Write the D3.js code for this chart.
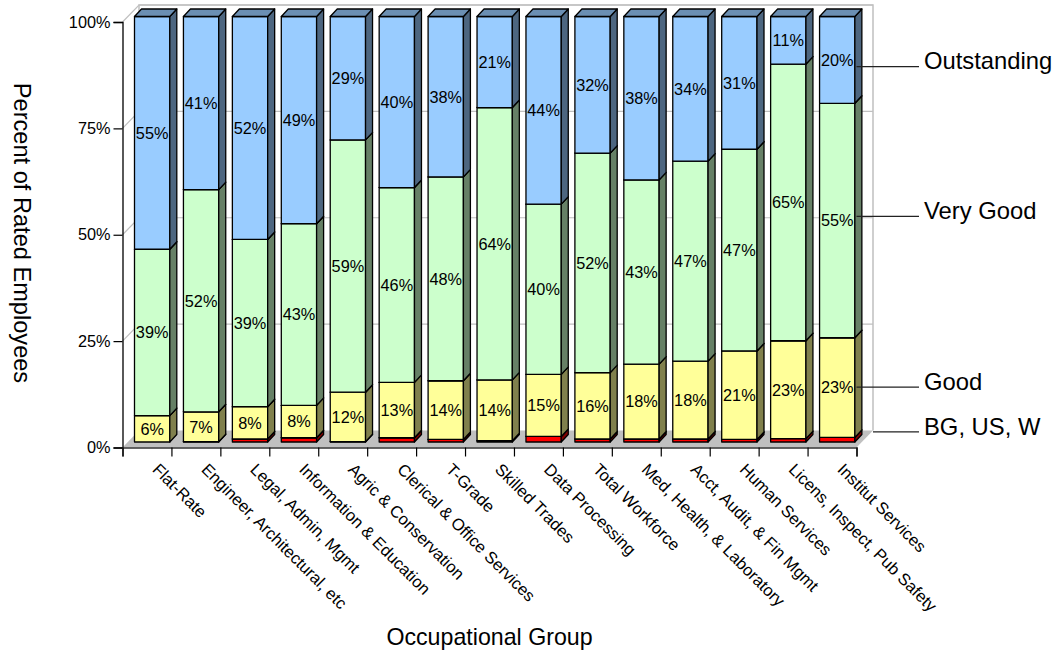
<!DOCTYPE html>
<html>
<head>
<meta charset="utf-8">
<style>
  html, body { margin: 0; padding: 0; background: #fff; }
  svg { display: block; }
  text { font-family: "Liberation Sans", Arial, sans-serif; fill: #000; }
</style>
<script src="https://cdn.jsdelivr.net/npm/d3@7/dist/d3.min.js"></script>
</head>
<body>
<svg id="chart" width="1057" height="652"></svg>
<script>
const categories = [
  "Flat-Rate", "Engineer, Architectural, etc", "Legal, Admin, Mgmt",
  "Information & Education", "Agric & Conservation", "Clerical & Office Services",
  "T-Grade", "Skilled Trades", "Data Processing", "Total Workforce",
  "Med, Health, & Laboratory", "Acct, Audit, & Fin Mgmt", "Human Services",
  "Licens, Inspect, Pub Safety", "Institut Services"
];
const lowRatings  = [0, 0.1, 0.7, 1, 0.1, 1, 0.6, 0.3, 1.3, 0.7, 0.7, 0.7, 0.6, 0.8, 1.1];
const good        = [6.2, 7, 7.6, 7.6, 11.6, 13, 13.8, 14.3, 14.6, 15.6, 17.6, 18.3, 20.8, 23, 23.4];
const veryGood    = [39.1, 52.2, 39.3, 42.7, 59.3, 45.8, 47.9, 64, 40, 51.6, 43.3, 47, 47.4, 65, 55.1];
const outstanding = [54.7, 40.7, 52.4, 48.7, 29, 40.2, 37.7, 21.4, 44.1, 32.1, 38.4, 34, 31.2, 11.2, 20.4];
const seriesKeys  = ["BG, US, W", "Good", "Very Good", "Outstanding"];
const percentTicks = [0, 25, 50, 75, 100];

const seriesValues = [lowRatings, good, veryGood, outstanding];
const rows = categories.map((name, i) => {
  const row = { name };
  seriesKeys.forEach((k, s) => { row[k] = seriesValues[s][i]; });
  return row;
});

// Face colours per series: front, side, top.
const faces = {
  "BG, US, W":   { front: "#ff0000", side: "#800000", top: "#b30000" },
  "Good":        { front: "#ffff99", side: "#80804d", top: "#b3b36b" },
  "Very Good":   { front: "#ccffcc", side: "#668066", top: "#8fb38f" },
  "Outstanding": { front: "#99ccff", side: "#4d6680", top: "#6b8fb3" }
};

const svg = d3.select("#chart");
const plotLeft = 122.5, plotRight = 856.5, plotBottom = 447.5, plotTop = 22;
const wallDx = 16.5, wallDy = 17;        // depth of the chart box
const barInset = 12, barW = 35.3;        // front face inside each band
const barLift = 5.5, barDx = 7, barDy = 7.5; // bar's place and depth within the box
const wallColor = "#c0c0c0";

const x = d3.scaleBand().domain(categories).range([plotLeft, plotRight]).padding(0);
const y = d3.scaleLinear().domain([0, 100]).range([plotBottom, plotTop]);
const stacked = d3.stack().keys(seriesKeys)(rows);

// Chart box: floor, back wall and grid lines.
const box = svg.append("g");
box.append("polygon")
  .attr("points", [[plotLeft, plotBottom], [plotLeft + wallDx, plotBottom - wallDy],
                   [plotRight + wallDx, plotBottom - wallDy], [plotRight, plotBottom]].join(" "))
  .attr("fill", wallColor);
box.append("path")
  .attr("d", `M${plotLeft + wallDx},${plotBottom - wallDy}V${plotTop - wallDy}H${plotRight + wallDx}V${plotBottom - wallDy}`)
  .attr("fill", "none").attr("stroke", wallColor).attr("stroke-width", 1.5);
box.selectAll("path.grid").data(percentTicks.slice(1)).join("path")
  .attr("class", "grid")
  .attr("d", d => `M${plotLeft},${y(d)}L${plotLeft + wallDx},${y(d) - wallDy}H${plotRight + wallDx}`)
  .attr("fill", "none").attr("stroke", wallColor).attr("stroke-width", 1.2);

// Stacked 3-D bars, left to right.
const bars = svg.append("g").attr("stroke", "#000").attr("stroke-width", 1.3).attr("stroke-linejoin", "round");
categories.forEach((name, i) => {
  const bx = x(name) + barInset;
  stacked.forEach(layer => {
    const [y0, y1] = layer[i];
    if (y1 - y0 <= 0) return;
    const f = faces[layer.key];
    const yb = y(y0) - barLift, yt = y(y1) - barLift;
    const g = bars.append("g");
    g.append("rect").attr("x", bx).attr("y", yt).attr("width", barW).attr("height", yb - yt).attr("fill", f.front);
    g.append("polygon")
      .attr("points", [[bx + barW, yb], [bx + barW + barDx, yb - barDy],
                       [bx + barW + barDx, yt - barDy], [bx + barW, yt]].join(" "))
      .attr("fill", f.side);
    g.append("polygon")
      .attr("points", [[bx, yt], [bx + barDx, yt - barDy],
                       [bx + barW + barDx, yt - barDy], [bx + barW, yt]].join(" "))
      .attr("fill", f.top);
  });
});

// Percentage labels on the three larger segments.
const labelled = stacked.slice(1);
labelled.forEach(layer => {
  svg.append("g").selectAll("text").data(layer).join("text")
    .attr("x", d => x(d.data.name) + barInset + barW / 2)
    .attr("y", d => (y(d[0]) + y(d[1])) / 2 - barLift)
    .attr("dy", "0.36em")
    .attr("text-anchor", "middle")
    .attr("font-size", 16.3)
    .text(d => Math.round(d[1] - d[0]) + "%");
});

// Axes.
const yAxis = svg.append("g").attr("transform", `translate(${plotLeft},0)`)
  .call(d3.axisLeft(y).tickValues(percentTicks).tickSize(9).tickPadding(3).tickFormat(d => d + "%"));
yAxis.select(".domain").attr("stroke", "#000").attr("stroke-width", 1.3);
yAxis.selectAll("line").attr("stroke", "#000").attr("stroke-width", 1.2);
yAxis.selectAll("text").attr("font-size", 16.3).attr("font-family", "Liberation Sans").attr("fill", "#000");

const edge = d3.scaleLinear().domain([0, categories.length]).range([plotLeft, plotRight]);
const xAxis = svg.append("g").attr("transform", `translate(0,${plotBottom})`)
  .call(d3.axisBottom(edge).tickValues(d3.range(categories.length + 1)).tickSize(9).tickFormat(""));
xAxis.select(".domain").attr("stroke", "#333").attr("stroke-width", 1.5);
xAxis.selectAll("line").attr("stroke", "#000").attr("stroke-width", 1.2);

// Category names, slanted downward to the right.
svg.append("g").selectAll("text").data(categories).join("text")
  .attr("transform", d => `translate(${x(d) + 29},${plotBottom + 23}) rotate(45)`)
  .attr("font-size", 16.6)
  .text(d => d);

// Axis titles.
svg.append("text")
  .attr("transform", "translate(22,233) rotate(90)")
  .attr("text-anchor", "middle")
  .attr("font-size", 23.6).attr("dy", "0.36em")
  .text("Percent of Rated Employees");
svg.append("text")
  .attr("x", 489.5).attr("y", 645)
  .attr("text-anchor", "middle")
  .attr("font-size", 23.2)
  .text("Occupational Group");

// Series names with leader lines running out from the last bar.
const seriesLabels = [
  { name: "Outstanding", level: 89.5, from: plotRight },
  { name: "Very Good",   level: 54.3, from: plotRight },
  { name: "Good",        level: 14.2, from: plotRight },
  { name: "BG, US, W",   level: 3.65, from: plotRight + wallDx }
];
const notes = svg.append("g").selectAll("g").data(seriesLabels).join("g");
notes.append("line")
  .attr("x1", d => d.from).attr("x2", 919)
  .attr("y1", d => y(d.level)).attr("y2", d => y(d.level))
  .attr("stroke", "#222").attr("stroke-width", 1.3);
notes.append("text")
  .attr("x", 924).attr("y", d => y(d.level) - 6)
  .attr("dy", "0.36em")
  .attr("font-size", 23.8)
  .text(d => d.name);
</script>
</body>
</html>
